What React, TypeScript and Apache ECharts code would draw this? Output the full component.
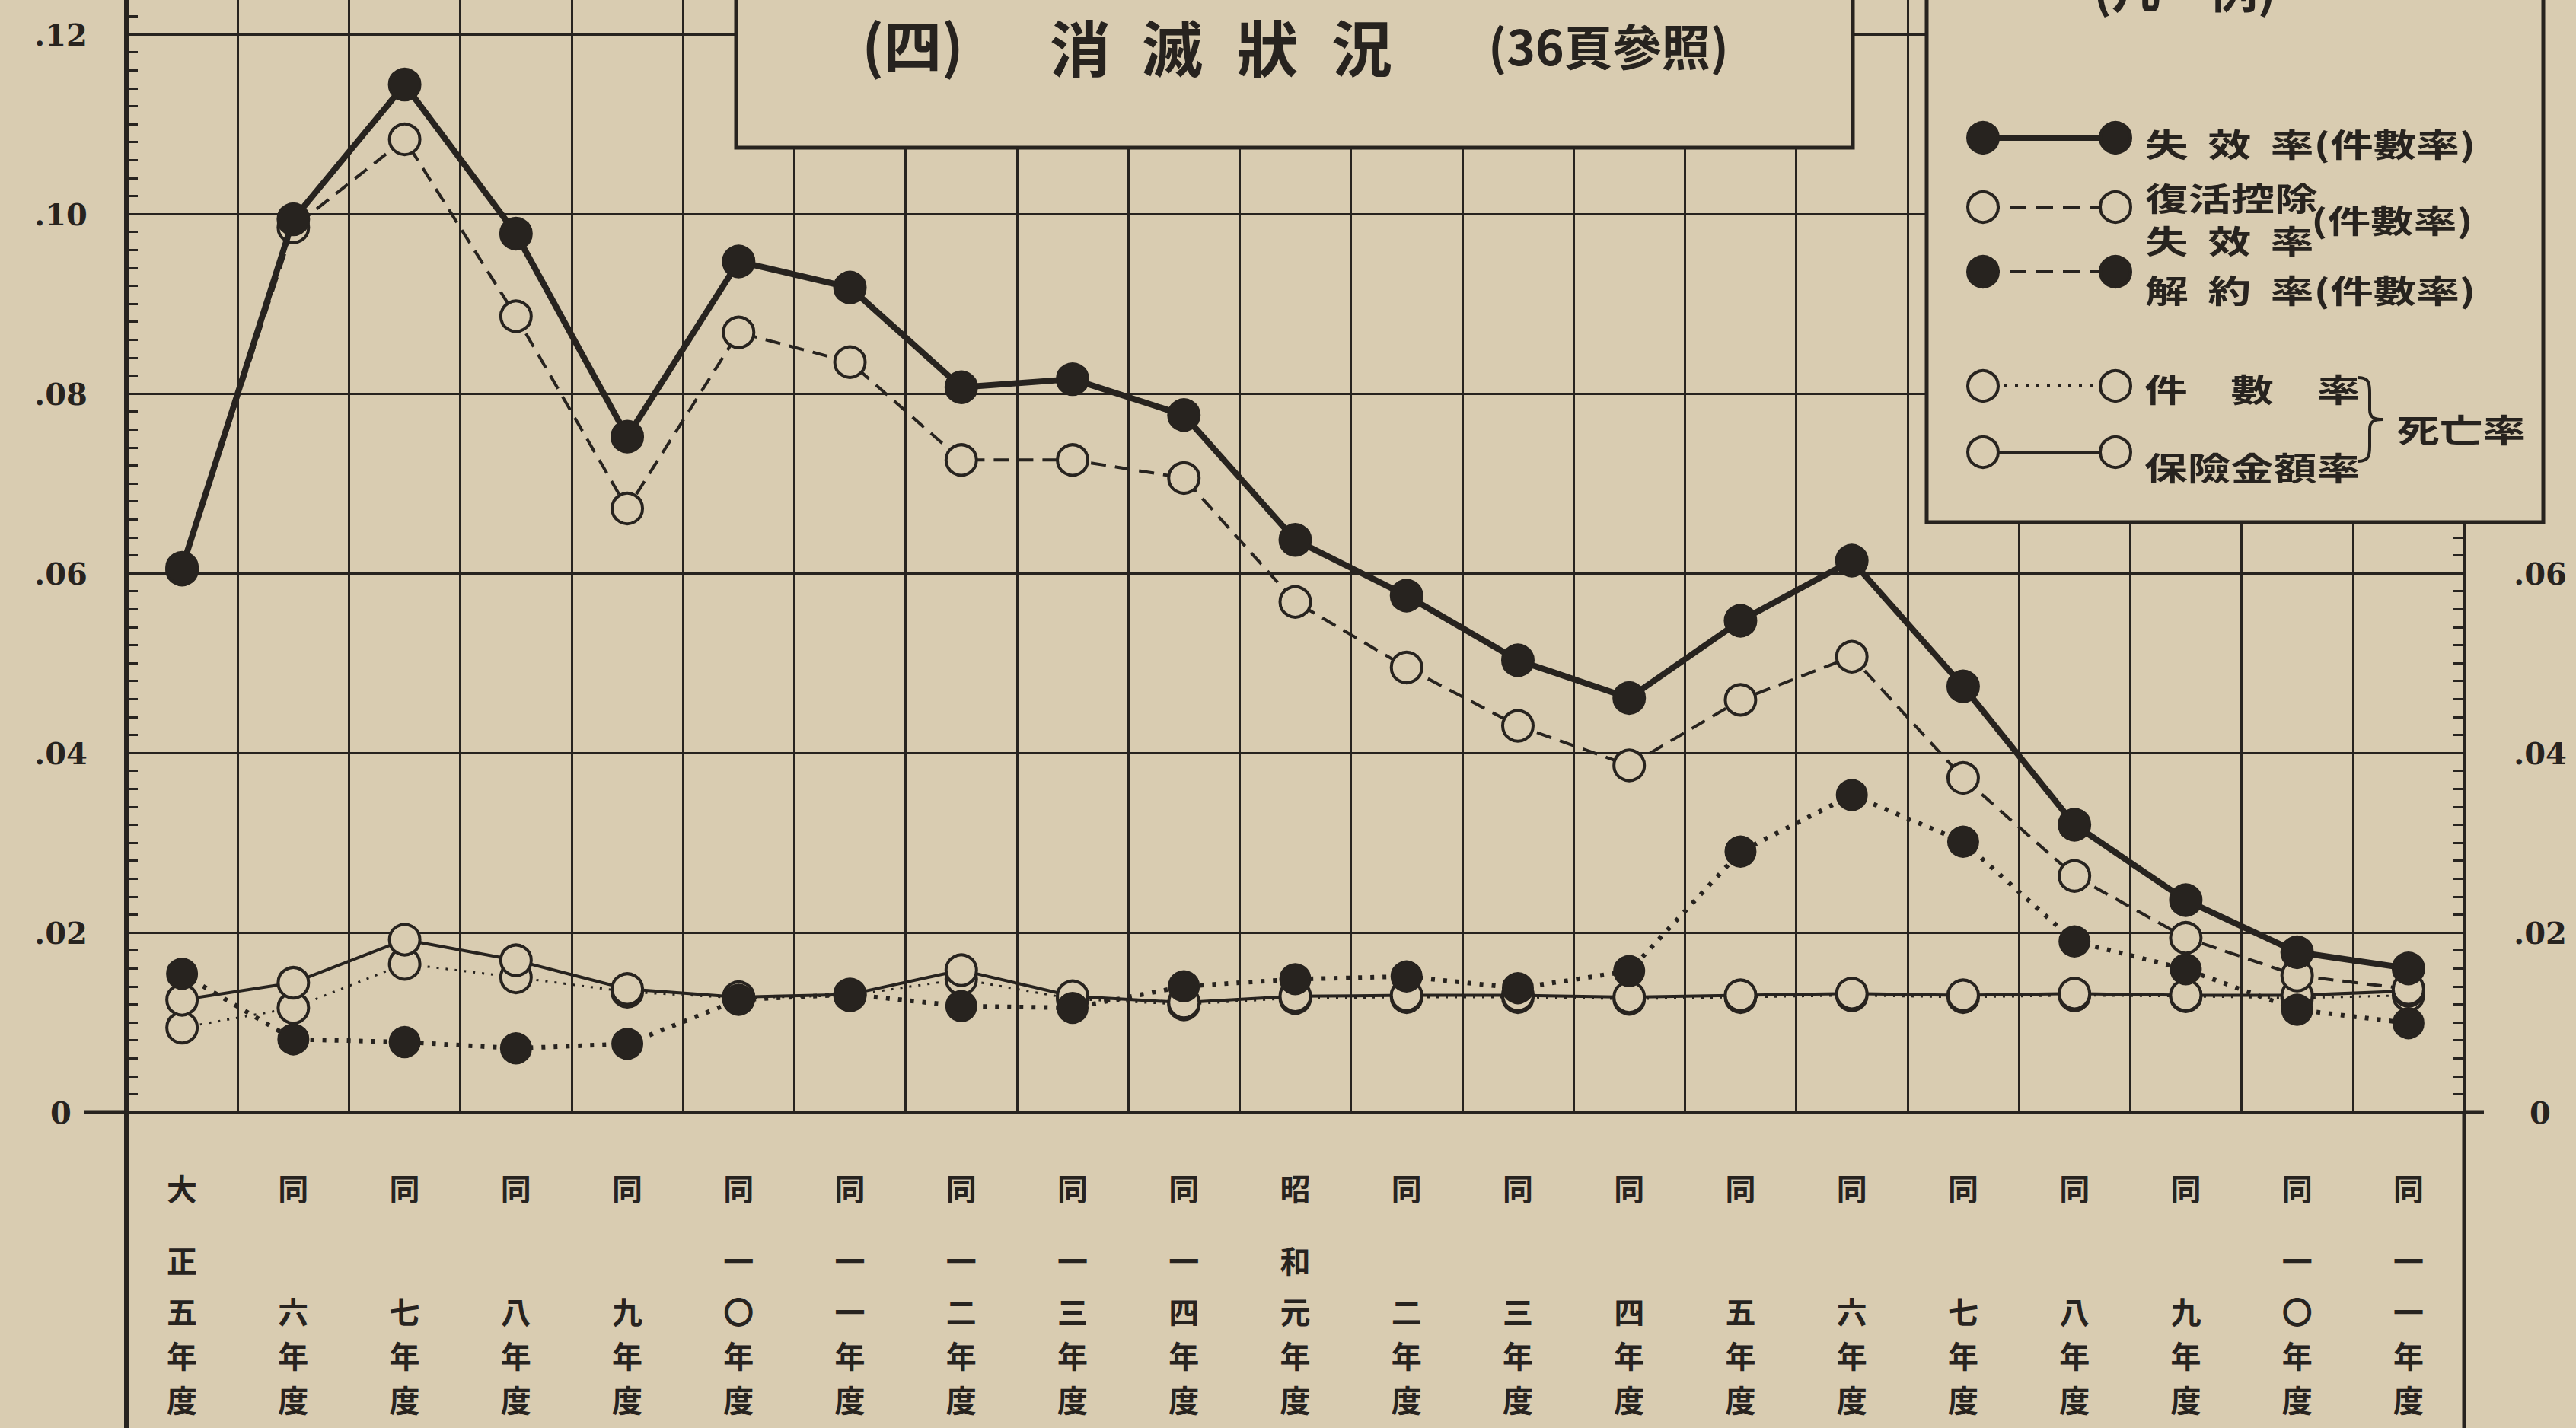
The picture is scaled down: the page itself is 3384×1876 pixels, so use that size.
import React, { useEffect, useRef } from 'react';
import * as echarts from 'echarts';

// ---------- data ----------
const categories = [
  '大正五年度', '同六年度', '同七年度', '同八年度', '同九年度', '同一〇年度', '同一一年度',
  '同一二年度', '同一三年度', '同一四年度', '昭和元年度', '同二年度', '同三年度', '同四年度',
  '同五年度', '同六年度', '同七年度', '同八年度', '同九年度', '同一〇年度', '同一一年度',
];

// 失效率(件數率)
const lapseRate = [0.0606, 0.0994, 0.1144, 0.0978, 0.0752, 0.0947, 0.0918, 0.0807, 0.0816, 0.0776, 0.0637,
  0.0575, 0.0503, 0.0461, 0.0547, 0.0614, 0.0474, 0.0320, 0.0236, 0.0178, 0.0160];
// 復活控除失效率(件數率)
const netLapseRate = [0.0604, 0.0985, 0.1083, 0.0886, 0.0672, 0.0868, 0.0835, 0.0726, 0.0726, 0.0706, 0.0568,
  0.0495, 0.0430, 0.0386, 0.0459, 0.0507, 0.0372, 0.0263, 0.0194, 0.0152, 0.0137];
// 解約率(件數率)
const surrenderRate = [0.0154, 0.0081, 0.0078, 0.0071, 0.0076, 0.0125, 0.0131, 0.0118, 0.0116, 0.0140, 0.0148,
  0.0151, 0.0138, 0.0157, 0.0290, 0.0353, 0.0301, 0.0190, 0.0159, 0.0114, 0.0099];
// 死亡率 件數率
const deathCountRate = [0.0094, 0.0116, 0.0165, 0.0150, 0.0134, 0.0127, 0.0130, 0.0148, 0.0126, 0.0120, 0.0127,
  0.0128, 0.0128, 0.0126, 0.0128, 0.0130, 0.0128, 0.0130, 0.0129, 0.0127, 0.0130];
// 死亡率 保險金額率
const deathAmountRate = [0.0125, 0.0144, 0.0192, 0.0169, 0.0137, 0.0128, 0.0131, 0.0158, 0.0129, 0.0122, 0.0129,
  0.0130, 0.0130, 0.0128, 0.0130, 0.0132, 0.0130, 0.0132, 0.0130, 0.0130, 0.0135];

const yTickLabels = ['0', '.02', '.04', '.06', '.08', '.10', '.12'];
const rightTickLabels = ['0', '.02', '.04', '.06'];
const Y_INTERVAL = 0.02;
const Y_MAX = 0.13;

// ---------- style ----------
const BG = '#d9ccb1';
const INK = '#27231f';
const CJK = '"Noto Sans CJK JP", "Noto Sans CJK SC", sans-serif';
const SERIF = '"DejaVu Serif", "Liberation Serif", serif';

const W = 3384;
const OFF = 100; // chart div is shifted up by this much
const H = 1876 + OFF;
const GRID_LEFT = 166;
const GRID_RIGHT_X = 3237;
const ZERO_Y = 1461 + OFF;
const GRID_BOTTOM = H - ZERO_Y;
const GRID_TOP = ZERO_Y - (Y_MAX / Y_INTERVAL) * 236;

const tickLabel = (labels: string[]) => (v: number) => {
  const k = Math.round(v / Y_INTERVAL);
  if (Math.abs(v - k * Y_INTERVAL) > 1e-9) return '';
  return labels[k] ?? '';
};

function brace(): string {
  return 'M0,0 C14,0 15,8 15,20 L15,42 C15,52 20,55 32,55 C20,55 15,58 15,68 L15,90 C15,102 14,110 0,110';
}

export default function App() {
  const ref = useRef<HTMLDivElement>(null);
  useEffect(() => {
    document.body.style.margin = '0';
    document.body.style.overflow = 'hidden';
    document.body.style.background = BG;
    try {
      echarts.graphic.registerShape('brace', echarts.graphic.extendPath(brace(), {}) as any);
    } catch (e) { /* already registered */ }
    const chart = echarts.init(ref.current!, undefined, { renderer: 'svg' });

    const openItem = { color: BG, borderColor: INK, borderWidth: 4 };
    const filledItem = { color: INK, borderColor: INK, borderWidth: 2 };

    const legendRows = [
      { y: 181, filled: true, line: 'solid', width: 8 },
      { y: 272, filled: false, line: [22, 13], width: 4 },
      { y: 357, filled: true, line: [22, 13], width: 4 },
      { y: 507, filled: false, line: [4, 10], width: 4 },
      { y: 594, filled: false, line: 'solid', width: 4 },
    ];
    const lx1 = 2605, lx2 = 2779, r = 20;
    const legendGraphics: any[] = [];
    legendRows.forEach((row) => {
      const y = row.y + OFF;
      legendGraphics.push({
        type: 'line', z: 101, shape: { x1: lx1, y1: y, x2: lx2, y2: y },
        style: { stroke: INK, lineWidth: row.width, lineDash: row.line === 'solid' ? null : row.line },
      });
      [lx1, lx2].forEach((cx) => legendGraphics.push({
        type: 'circle', z: 102, shape: { cx, cy: y, r },
        style: { fill: row.filled ? INK : BG, stroke: INK, lineWidth: 4 },
      }));
    });
    const legTxt = (text: string, x: number, y: number, fs = 42, sx = 1.35) => ({
      type: 'text', z: 102, x, y: y + OFF, scaleX: sx,
      style: { text, fontSize: fs, fontWeight: 'bold', fontFamily: CJK, fill: INK, align: 'left', verticalAlign: 'middle' },
    });
    const nb = '\u00a0\u00a0';
    legendGraphics.push(
      legTxt(`失${nb}效${nb}率(件數率)`, 2818, 187),
      legTxt('復活控除', 2818, 258),
      legTxt(`失${nb}效${nb}率`, 2818, 314),
      legTxt('(件數率)', 3036, 287),
      legTxt(`解${nb}約${nb}率(件數率)`, 2818, 379),
      legTxt('件\u3000數\u3000率', 2817, 509),
      legTxt('保險金額率', 2817, 612),
      legTxt('死亡率', 3148, 562),
      {
        type: 'brace', z: 102, x: 3098, y: 496 + OFF,
        style: { fill: 'none', stroke: INK, lineWidth: 4 },
      },
    );

    const titleChars = [
      { t: '消', x: 1419 }, { t: '滅', x: 1540 }, { t: '狀', x: 1665 }, { t: '況', x: 1789 },
    ];

    const labelRow = (lh: number) => ({ lineHeight: lh, fontSize: 40, fontWeight: 'bold', fontFamily: CJK, color: INK });

    const option: any = {
      animation: false,
      backgroundColor: BG,
      grid: { left: GRID_LEFT, right: W - GRID_RIGHT_X, top: GRID_TOP, bottom: GRID_BOTTOM, containLabel: false },
      xAxis: {
        type: 'category',
        data: categories,
        boundaryGap: true,
        axisLine: { show: true, lineStyle: { color: INK, width: 5 } },
        axisTick: { show: false },
        splitLine: { show: true, interval: 0, lineStyle: { color: INK, width: 3 } },
        axisLabel: {
          interval: 0,
          margin: 42,
          verticalAlign: 'top',
          color: INK,
          formatter: (v: string) => {
            const ch = Array.from(v);
            if (ch.length === 4) ch.splice(1, 0, '\u3000');
            return ch.map((c, i) => `{r${i}|${c}}`).join('\n');
          },
          rich: { r0: labelRow(114), r1: labelRow(76), r2: labelRow(58), r3: labelRow(58), r4: labelRow(58) },
        },
      },
      yAxis: [
        {
          type: 'value', position: 'left', min: 0, max: Y_MAX, interval: Y_INTERVAL,
          axisLine: { show: true, onZero: false, lineStyle: { color: INK, width: 6 } },
          axisTick: { show: true, inside: true, length: 20, lineStyle: { color: INK, width: 3 } },
          minorTick: { show: true, splitNumber: 10, length: 15, lineStyle: { color: INK, width: 3 } },
          splitLine: { show: true, lineStyle: { color: INK, width: 3 } },
          axisLabel: {
            formatter: tickLabel(yTickLabels), align: 'center', margin: 86,
            fontSize: 40, fontWeight: 'bold', fontFamily: SERIF, color: INK,
          },
        },
        {
          type: 'value', position: 'right', min: 0, max: Y_MAX, interval: Y_INTERVAL,
          axisLine: { show: true, onZero: false, lineStyle: { color: INK, width: 5 } },
          axisTick: { show: true, inside: true, length: 20, lineStyle: { color: INK, width: 3 } },
          minorTick: { show: true, splitNumber: 10, length: 15, lineStyle: { color: INK, width: 3 } },
          splitLine: { show: false },
          axisLabel: {
            formatter: tickLabel(rightTickLabels), align: 'center', margin: 100,
            fontSize: 40, fontWeight: 'bold', fontFamily: SERIF, color: INK,
          },
        },
      ],
      series: [
        {
          name: '死亡率(件數率)', type: 'line', data: deathCountRate, z: 3,
          symbol: 'circle', symbolSize: 40, showAllSymbol: true,
          itemStyle: openItem, lineStyle: { color: INK, width: 3, type: [3, 9] },
        },
        {
          name: '死亡率(保險金額率)', type: 'line', data: deathAmountRate, z: 4,
          symbol: 'circle', symbolSize: 40, showAllSymbol: true,
          itemStyle: openItem, lineStyle: { color: INK, width: 4, type: 'solid' },
        },
        {
          name: '解約率(件數率)', type: 'line', data: surrenderRate, z: 5,
          symbol: 'circle', symbolSize: 40, showAllSymbol: true,
          itemStyle: filledItem, lineStyle: { color: INK, width: 6, type: [5, 11] },
        },
        {
          name: '復活控除失效率(件數率)', type: 'line', data: netLapseRate, z: 6,
          symbol: 'circle', symbolSize: 40, showAllSymbol: true,
          itemStyle: openItem, lineStyle: { color: INK, width: 4, type: [20, 12] },
        },
        {
          name: '失效率(件數率)', type: 'line', data: lapseRate, z: 7,
          symbol: 'circle', symbolSize: 42, showAllSymbol: true,
          itemStyle: filledItem, lineStyle: { color: INK, width: 8, type: 'solid' },
        },
      ],
      graphic: [
        // axis extensions
        { type: 'line', z: 50, shape: { x1: 110, y1: ZERO_Y, x2: GRID_LEFT, y2: ZERO_Y }, style: { stroke: INK, lineWidth: 5 } },
        { type: 'line', z: 50, shape: { x1: GRID_RIGHT_X, y1: ZERO_Y, x2: GRID_RIGHT_X + 26, y2: ZERO_Y }, style: { stroke: INK, lineWidth: 5 } },
        { type: 'line', z: 50, shape: { x1: GRID_LEFT, y1: ZERO_Y, x2: GRID_LEFT, y2: H }, style: { stroke: INK, lineWidth: 6 } },
        { type: 'line', z: 50, shape: { x1: GRID_RIGHT_X, y1: ZERO_Y, x2: GRID_RIGHT_X, y2: H }, style: { stroke: INK, lineWidth: 5 } },
        // title box
        { type: 'rect', z: 100, shape: { x: 967, y: 0, width: 1467, height: 194 + OFF }, style: { fill: BG, stroke: INK, lineWidth: 5 } },
        {
          type: 'text', z: 101, x: 1199, y: 56 + OFF,
          style: { text: '(四)', fontSize: 76, fontWeight: 'bold', fontFamily: CJK, fill: INK, align: 'center', verticalAlign: 'middle' },
        },
        ...titleChars.map((c) => ({
          type: 'text', z: 101, x: c.x, y: 59 + OFF,
          style: { text: c.t, fontSize: 80, fontWeight: 'bold', fontFamily: CJK, fill: INK, align: 'center', verticalAlign: 'middle' },
        })),
        {
          type: 'text', z: 101, x: 2113, y: 58 + OFF,
          style: { text: '(36頁參照)', fontSize: 64, fontWeight: 'bold', fontFamily: CJK, fill: INK, align: 'center', verticalAlign: 'middle' },
        },
        // legend box
        { type: 'rect', z: 100, shape: { x: 2531, y: 0, width: 810, height: 686 + OFF }, style: { fill: BG, stroke: INK, lineWidth: 5 } },
        {
          type: 'text', z: 101, x: 2870, y: -18 + OFF,
          style: { text: '(凡\u3000例)', fontSize: 64, fontWeight: 'bold', fontFamily: CJK, fill: INK, align: 'center', verticalAlign: 'middle' },
        },
        ...legendGraphics,
      ],
    };
    chart.setOption(option);
    return () => chart.dispose();
  }, []);
  return <div ref={ref} style={{ position: 'absolute', left: 0, top: -OFF, width: W, height: H }} />;
}
